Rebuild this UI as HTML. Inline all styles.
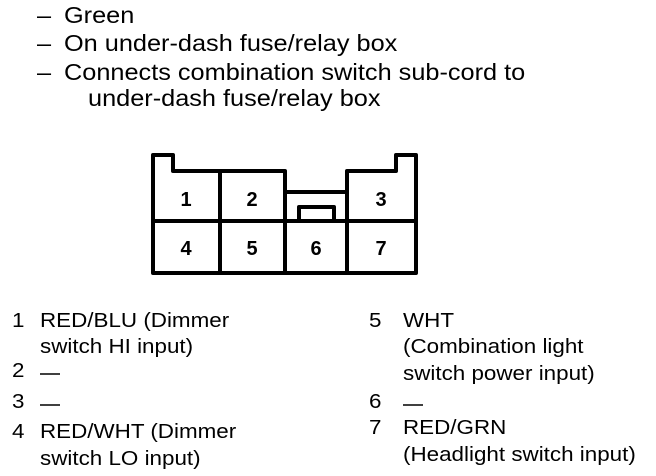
<!DOCTYPE html>
<html><head><style>
body{margin:0;width:656px;height:476px;background:#fff;position:relative;overflow:hidden;font-family:"Liberation Sans",Arial,sans-serif;color:#000}
.t{position:absolute;white-space:nowrap;line-height:1;transform-origin:0 0}
.h{font-size:23px;transform:scaleX(1.1)}
.b{font-size:20px;transform:scaleX(1.12)}
</style></head><body>
<div class="t h" style="left:37px;top:4px">–</div><div class="t h" style="left:64px;top:4px">Green</div>
<div class="t h" style="left:37px;top:32px">–</div><div class="t h" style="left:64px;top:32px">On under-dash fuse/relay box</div>
<div class="t h" style="left:37px;top:61px">–</div><div class="t h" style="left:64px;top:61px">Connects combination switch sub-cord to</div>
<div class="t h" style="left:88px;top:87px">under-dash fuse/relay box</div>

<svg style="position:absolute;left:0;top:0" width="656" height="476">
<g fill="none" stroke="#000" stroke-width="4" stroke-linejoin="round">
<path d="M153,155 H173 V171 H285 V192 H347 V171 H396 V155 H416 V273 H153 Z"/>
<path d="M285,171 V273 M220,171 V273 M347,171 V273 M153,221 H416"/>
<path d="M299,221 V207 H334 V221"/>
</g>
<g font-family="Liberation Sans,Arial,sans-serif" font-weight="bold" font-size="20" text-anchor="middle">
<text x="186" y="206">1</text><text x="252" y="206">2</text><text x="381" y="206">3</text>
<text x="186" y="255">4</text><text x="252" y="255">5</text><text x="316" y="255">6</text><text x="381" y="255">7</text>
</g>
<g stroke="#000" stroke-width="1.5">
<line x1="40" y1="374" x2="60" y2="374"/>
<line x1="40" y1="405" x2="60" y2="405"/>
<line x1="403" y1="405" x2="423" y2="405"/>
</g>
</svg>

<div class="t b" style="left:12px;top:311px">1</div>
<div class="t b" style="left:40px;top:311px">RED/BLU (Dimmer</div>
<div class="t b" style="left:40px;top:337px">switch HI input)</div>
<div class="t b" style="left:12px;top:361px">2</div>
<div class="t b" style="left:12px;top:392px">3</div>
<div class="t b" style="left:12px;top:422px">4</div>
<div class="t b" style="left:40px;top:422px">RED/WHT (Dimmer</div>
<div class="t b" style="left:40px;top:449px">switch LO input)</div>

<div class="t b" style="left:369px;top:311px">5</div>
<div class="t b" style="left:403px;top:311px">WHT</div>
<div class="t b" style="left:403px;top:337px">(Combination light</div>
<div class="t b" style="left:403px;top:364px">switch power input)</div>
<div class="t b" style="left:369px;top:392px">6</div>
<div class="t b" style="left:369px;top:418px">7</div>
<div class="t b" style="left:403px;top:418px">RED/GRN</div>
<div class="t b" style="left:403px;top:445px">(Headlight switch input)</div>
</body></html>
